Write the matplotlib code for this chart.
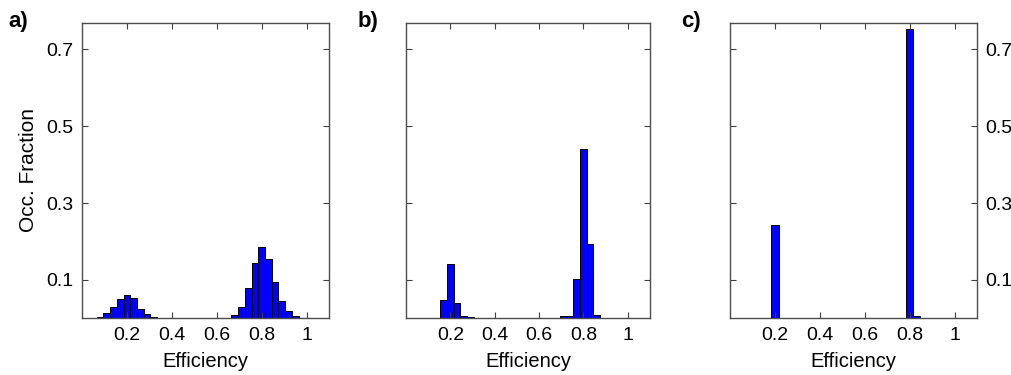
import matplotlib
matplotlib.use('Agg')
import matplotlib.pyplot as plt

plt.rcParams['font.family'] = ['Liberation Sans', 'DejaVu Sans']

# histogram bins (centres) and occupancy fractions
centers_a = [0.05, 0.08, 0.11, 0.14, 0.17, 0.20, 0.23, 0.26, 0.29, 0.32, 0.35, 0.38,
             0.62, 0.65, 0.68, 0.71, 0.74, 0.77, 0.80, 0.83, 0.86, 0.89, 0.92, 0.95, 0.98]
frac_a = [0.001, 0.003, 0.013, 0.030, 0.050, 0.060, 0.054, 0.025, 0.012, 0.004, 0.001, 0.001,
          0.001, 0.002, 0.008, 0.030, 0.080, 0.144, 0.185, 0.154, 0.095, 0.044, 0.018, 0.005, 0.001]

centers_b = [0.11, 0.14, 0.17, 0.20, 0.23, 0.26, 0.29, 0.32, 0.41, 0.44, 0.56, 0.59,
             0.65, 0.68, 0.71, 0.74, 0.77, 0.80, 0.83, 0.86, 0.89, 0.92]
frac_b = [0.001, 0.001, 0.048, 0.142, 0.040, 0.005, 0.003, 0.002, 0.001, 0.001, 0.001, 0.001,
          0.001, 0.002, 0.005, 0.006, 0.103, 0.441, 0.193, 0.009, 0.001, 0.001]

centers_c = [0.20, 0.77, 0.80, 0.83]
frac_c = [0.243, 0.001, 0.753, 0.006]

xticks = [0.2, 0.4, 0.6, 0.8, 1.0]
xticklabels = ['0.2', '0.4', '0.6', '0.8', '1']
yticks = [0.1, 0.3, 0.5, 0.7]
yticklabels = ['0.1', '0.3', '0.5', '0.7']
panel_letters = ['a)', 'b)', 'c)']

W, H = 1011, 375
fig = plt.figure(figsize=(W / 100, H / 100), dpi=100)

boxes = [(82, 247), (406, 244), (730, 247)]
top, bottom = 22.5, 318.3
letter_x = [8, 358, 681]

panels = [(centers_a, frac_a, 0.03), (centers_b, frac_b, 0.03), (centers_c, frac_c, 0.034)]

for i, ((left, width), (cx, fr, bw)) in enumerate(zip(boxes, panels)):
    ax = fig.add_axes([left / W, 1 - bottom / H, width / W, (bottom - top) / H])
    ax.bar(cx, fr, width=bw, color='#0000ff', edgecolor='black', linewidth=0.7)
    ax.set_xlim(0, 1.1)
    ax.set_ylim(0, 0.77)
    ax.set_xticks(xticks)
    ax.set_xticklabels(xticklabels)
    ax.set_yticks(yticks)
    ax.set_yticklabels(yticklabels)
    ax.tick_params(direction='in', length=4, width=0.8, color='0.25',
                   top=True, right=True, labelsize=14, pad=6)
    if i == 0:
        ax.set_ylabel('Occ. Fraction', fontsize=15, labelpad=6)
    elif i == 1:
        ax.tick_params(labelleft=False)
    else:
        ax.tick_params(labelleft=False, labelright=True)
    ax.set_xlabel('Efficiency', fontsize=14.5, labelpad=6)
    for s in ax.spines.values():
        s.set_color('0.3')
        s.set_linewidth(1.0)
    fig.text(letter_x[i] / W, 1 - 11 / H, panel_letters[i], fontsize=16,
             fontweight='bold', ha='left', va='top')

fig.savefig('out.png', dpi=100)
